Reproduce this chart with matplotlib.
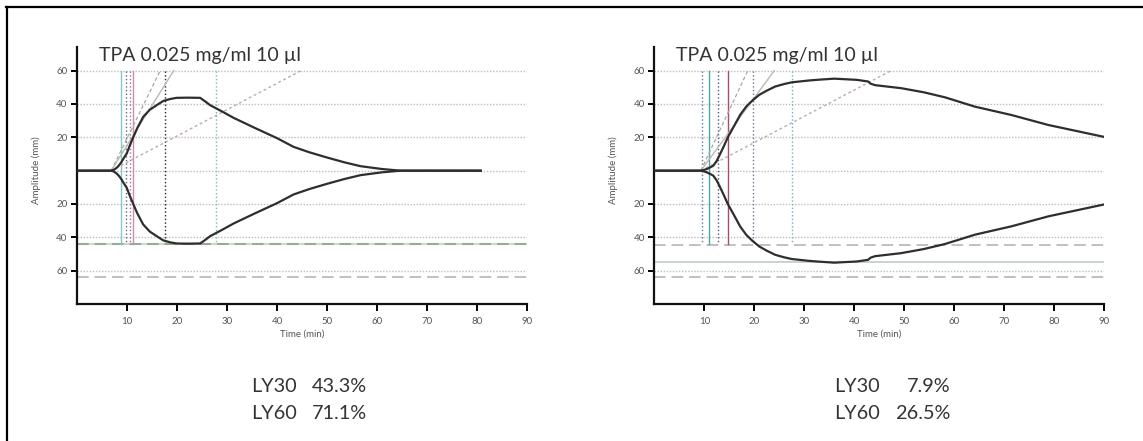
import matplotlib
matplotlib.use("Agg")
import matplotlib.pyplot as plt
from matplotlib.lines import Line2D

plt.rcParams['font.family'] = ['Lato', 'DejaVu Sans']

# ---- data (upper half of the TEG trace, lower half is the mirror) ----
title = "TPA 0.025 mg/ml 10 µl"

t_left = [0, 6.8, 7.3, 7.8, 8.3, 8.8, 9.3, 9.9, 10.5, 11.2, 12.0, 13.2, 14.5, 15.9,
          17.2, 18.6, 19.9, 22.0, 24.6, 25.5, 26.6, 29.0, 31.3, 35.3, 40.0, 43.3,
          46.5, 50.0, 53.5, 56.7, 61.0, 64.7, 80.8]
a_left = [0, 0, 0.5, 1.5, 3.0, 5.0, 7.5, 10.3, 15.0, 20.0, 25.5, 32.3, 36.5, 39.3,
          41.8, 43.0, 43.7, 43.8, 43.7, 41.8, 39.3, 35.5, 31.7, 26.0, 19.5, 14.3,
          11.0, 7.9, 5.0, 2.7, 1.0, 0, 0]

t_right = [0, 9.3, 10.0, 10.5, 11.2, 11.8, 12.5, 13.0, 13.8, 14.7, 16.0, 17.2, 18.4,
           19.6, 21.0, 22.5, 24.2, 26.0, 27.5, 30.9, 33.0, 36.0, 40.5, 42.8, 43.3,
           44.2, 49.4, 54.0, 58.2, 64.2, 71.5, 78.9, 85.0, 90.0]
a_right = [0, 0, 0.5, 1.0, 2.0, 3.0, 6.0, 9.0, 14.0, 20.0, 27.0, 33.6, 38.5,
           42.0, 45.5, 48.0, 50.5, 52.0, 53.0, 54.1, 54.6, 55.2, 54.5, 53.5, 52.2,
           51.3, 49.5, 47.0, 44.0, 38.4, 33.4, 27.4, 23.5, 20.3]

# vertical marker lines (time, colour, style)
vlines_left = [(8.7, '#86c6cf', '-'), (9.7, '#5a6a80', ':'), (10.5, '#9a6fa8', ':'),
               (11.2, '#d48aaa', '-'), (17.6, '#222222', ':'), (27.7, '#7fb5bf', ':')]
vlines_right = [(9.5, '#607a98', ':'), (10.9, '#4aa6a6', '-'), (12.7, '#505a70', ':'),
                (14.7, '#a0506e', '-'), (19.7, '#6a7890', ':'), (27.6, '#6fb0bb', ':')]

# tangent lines: start time, time where they reach 60 mm
tangents_left = [(6.8, 16.6), (6.8, 19.3), (6.8, 44.8)]
tangents_right = [(9.3, 18.7), (9.3, 24.0), (9.3, 47.4)]

ma_left = 44.2
ma_right = 54.5
ly_left = [("LY30", "43.3%"), ("LY60", "71.1%")]
ly_right = [("LY30", "7.9%"), ("LY60", "26.5%")]

grid_levels = [60, 40, 20, 0, -20, -40, -60]
yticks = [60, 40, 20, -20, -40, -60]
xticks = [10, 20, 30, 40, 50, 60, 70, 80, 90]

W, H = 1143, 441
fig = plt.figure(figsize=(W / 100, H / 100), dpi=100)

# outer frame (only top and left edges visible)
fig.add_artist(Line2D([6 / W, 1], [1 - 6.5 / H, 1 - 6.5 / H], color='black', lw=1.6))
fig.add_artist(Line2D([7 / W, 7 / W], [0, 1 - 6.5 / H], color='black', lw=1.6))


def draw_panel(ax, t, a, vlines, tangents, ma, ma_solid):
    ax.set_xlim(0, 90)
    ax.set_ylim(-80, 74.2)
    for g in grid_levels:
        ax.axhline(g, color='#bdbdbd', lw=1.0, ls=(0, (1, 1.2)), zorder=1)
    # lower reference lines
    if ma_solid:
        ax.axhline(-ma, color='#c8d4c8', lw=1.4, zorder=1)
        ax.axhline(-44.4, color='#c0c0c0', lw=1.4, ls=(0, (6, 3)), zorder=1)
    else:
        ax.axhline(-ma, color='#c8dcc8', lw=1.6, zorder=1)
        ax.axhline(-ma, color='#9aa89a', lw=1.4, ls=(0, (6, 3)), zorder=1)
    ax.axhline(-63.8, color='#c0c0c0', lw=1.4, ls=(0, (6, 3)), zorder=1)
    for x, c, s in vlines:
        ax.plot([x, x], [60, -44.3], color=c, lw=1.0, ls=s, zorder=2)
    (s0, e0), (s1, e1), (s2, e2) = tangents
    ax.plot([s0, e0], [0, 60], color='#a8a8a8', lw=0.9, ls=(0, (3, 2)), zorder=2)
    ax.plot([s1, e1], [0, 60], color='#b8bcae', lw=1.0, zorder=2)
    ax.plot([s2, e2], [0, 60], color='#c0a8b0', lw=1.0, ls=(0, (2, 2)), zorder=2)
    ax.plot(t, a, color='#2e2e2e', lw=1.6, zorder=3)
    ax.plot(t, [-v for v in a], color='#2e2e2e', lw=1.6, zorder=3)

    for side in ['top', 'right']:
        ax.spines[side].set_visible(False)
    for side in ['left', 'bottom']:
        ax.spines[side].set_linewidth(1.6)
        ax.spines[side].set_color('#111111')
    ax.set_yticks(yticks)
    ax.set_yticklabels([str(abs(v)) for v in yticks])
    ax.set_xticks(xticks)
    ax.tick_params(axis='y', length=4, width=1.4, pad=3, labelsize=7, labelcolor='#555555')
    ax.tick_params(axis='x', length=5, width=1.4, pad=4, labelsize=7, labelcolor='#555555')
    ax.set_xlabel("Time (min)", fontsize=7, color='#555555', labelpad=3)
    ax.set_ylabel("Amplitude (mm)", fontsize=7, color='#555555')
    ax.yaxis.set_label_coords(-0.081, 0.519)
    ax.text(0.049, 0.9467, title, transform=ax.transAxes, fontsize=14,
            color='#333333', va='baseline', ha='left')


ax1 = fig.add_axes([77.3 / W, 1 - 304 / H, 449.4 / W, 257 / H])
ax2 = fig.add_axes([654.4 / W, 1 - 304 / H, 449.4 / W, 257 / H])
draw_panel(ax1, t_left, a_left, vlines_left, tangents_left, ma_left, False)
draw_panel(ax2, t_right, a_right, vlines_right, tangents_right, ma_right, True)

# LY30 / LY60 annotations
for (lab_x, val_x), rows in [((251, 367), ly_left), ((834, 950), ly_right)]:
    for i, (lab, val) in enumerate(rows):
        yb = 1 - (392 + 27 * i) / H
        fig.text(lab_x / W, yb, lab, fontsize=14.3, color='#333333', va='baseline', ha='left')
        fig.text(val_x / W, yb, val, fontsize=14.3, color='#333333', va='baseline', ha='right')

fig.savefig("out.png", dpi=100)
